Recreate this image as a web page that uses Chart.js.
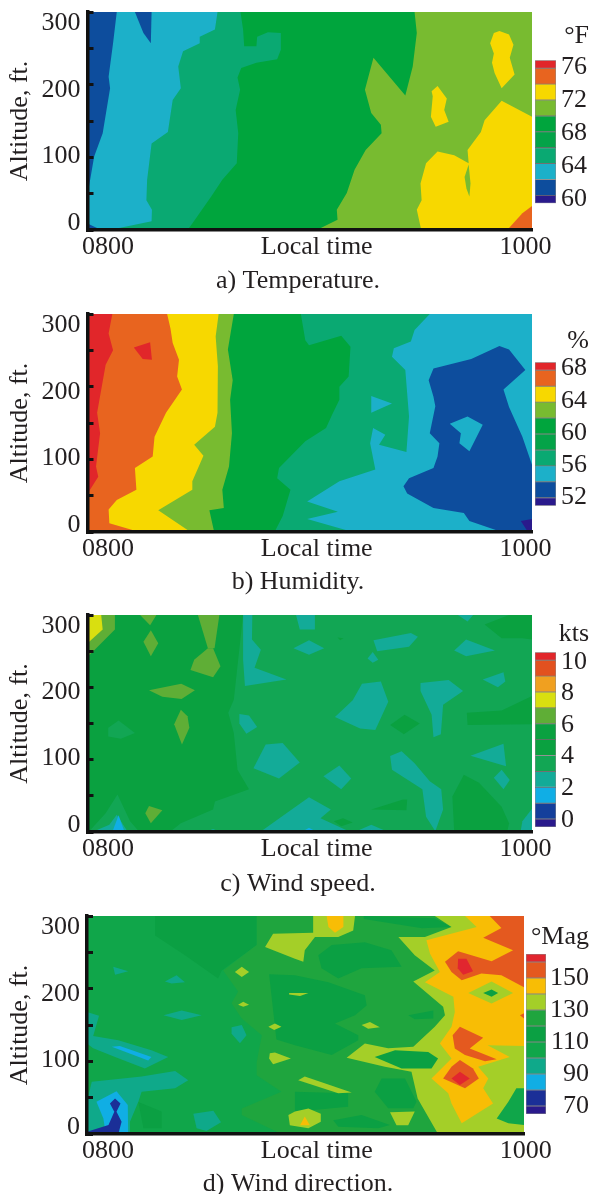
<!DOCTYPE html>
<html>
<head>
<meta charset="utf-8">
<style>
  html, body { margin: 0; background: #fff; }
  body { position: relative; width: 591px; height: 1194px; overflow: hidden; }
  canvas { position: absolute; filter: blur(0.4px); }
</style>
<script src="https://cdn.jsdelivr.net/npm/chart.js@4/dist/chart.umd.min.js"></script>
</head>
<body>
<script>
// axis labels
const altitudeTicks = [0, 100, 200, 300];
const timeTicks = [0, 60, 120];
const timeLabels = ["0800", "Local time", "1000"];

// colour bar levels, lowest first (each cell runs from one level to the next)
const tempLevels = [59, 60, 62, 64, 66, 68, 70, 72, 74, 76, 77];
const humidLevels = [51, 52, 54, 56, 58, 60, 62, 64, 66, 68, 69];
const speedLevels = [-0.5, 0, 1, 2, 3, 4, 5, 6, 7, 8, 9, 10, 10.5];
const dirLevels = [65, 70, 80, 90, 100, 110, 120, 130, 140, 150, 160, 165];

const tempLabels = [60, 64, 68, 72, 76];
const humidLabels = [52, 56, 60, 64, 68];
const speedLabels = [0, 2, 4, 6, 8, 10];
const dirLabels = [70, 90, 110, 130, 150];

// contour regions, painted back to front: [band level, [[minutes after 0800, feet], ...]]
const tempRegions = [
  [70, [[0,0],[120,0],[120,300],[0,300]]],
  [68, [[0,300],[88.3,300],[88.9,271],[87.8,225],[85.8,185],[77.2,237],[74.9,193],[76.6,161],[79.2,145],[79.4,133],[75.1,110],[72.1,83],[70,51],[67.3,28],[67.5,14],[61.9,0],[0,0]]],
  [64, [[0,300],[41.3,300],[42,276],[42.3,253],[45.6,253],[45.8,266],[48.7,272],[52.2,271],[52.2,248],[51.2,235],[45.6,230],[41.5,223],[40.5,210],[41.2,193],[40,165],[40.7,133],[40.3,92],[36.4,69],[33.4,46],[28.3,9],[27,0],[0,0]]],
  [62, [[0,300],[35.1,300],[34.4,276],[30.3,266],[30.3,257],[25.8,246],[24.5,225],[25.2,195],[23,179],[21.7,135],[17.3,119],[16.1,69],[15.9,41],[17.4,28],[17.3,12],[7.9,2],[5.9,0],[0,0]]],
  [60, [[0,300],[7.9,300],[6.9,257],[5.7,211],[6.1,195],[4.1,133],[1.8,101],[0.4,60],[0,41]]],
  [60, [[0,9],[3.7,0],[0,0]]],
  [60, [[12.8,300],[15.1,271],[17.1,257],[17.3,300]]],
  [72, [[111.2,274],[113.8,269],[115,255],[114,237],[115.3,214],[111.8,195],[109.9,216],[109.2,230],[109.7,243],[108.7,257],[109.7,271]]],
  [72, [[94.5,198],[97,181],[96.3,165],[97.5,149],[94,142],[92.7,156],[93.2,184],[92.9,191]]],
  [72, [[120,156],[111.8,178],[107.2,151],[106.2,135],[102.6,110],[102.9,92],[99,103],[94.5,108],[91.4,92],[89.9,64],[90.2,41],[88.9,28],[90.1,0],[120,0]]],
  [70, [[102.9,90],[101.8,73],[102.3,57],[103.1,46],[103.4,64]]],
  [74, [[120,33],[117.4,23],[113.3,0],[120,0]]],
];

const humidRegions = [
  [54, [[0,0],[120,0],[120,300],[0,300]]],
  [56, [[0,300],[92.4,300],[88.3,278],[87.3,262],[82.7,253],[82.2,241],[85.8,223],[86.8,159],[86.1,110],[78.7,120],[80.4,134],[77.1,143],[76.3,122],[77.7,86],[68,70],[59.3,42],[67.6,28],[59.3,18],[71.6,0],[0,0]]],
  [60, [[0,300],[57.6,300],[58.8,264],[59.8,257],[68.5,270],[71,255],[70.5,214],[68,200],[68,182],[66,161],[64.4,143],[58.8,125],[51.7,88],[51.2,74],[54.8,58],[52.7,22],[50.5,0],[0,0]]],
  [62, [[0,300],[39.5,300],[37.9,251],[39.2,209],[38.5,182],[39,136],[38.2,90],[36.4,58],[36.8,33],[32.9,30],[34.2,0],[0,0]]],
  [64, [[0,300],[35.4,300],[34.6,269],[35.2,228],[35.1,164],[34.4,145],[28.8,120],[31.3,105],[28.3,70],[28.3,58],[19.1,30],[27.8,0],[0,0]]],
  [66, [[0,300],[21.5,300],[22.4,280],[23,260],[24.7,237],[24.2,214],[25.5,196],[21.2,164],[18.1,131],[17.6,104],[12.8,88],[13.2,58],[7.9,44],[5.7,31],[5.9,12],[14,0],[0,0]]],
  [68, [[0,300],[6.7,300],[5.7,273],[6.9,250],[4.9,230],[2.6,164],[3.4,136],[2.3,90],[2.9,76],[0.3,55],[0,54]]],
  [68, [[12.5,254],[16.9,261],[17.4,237],[14.9,238]]],
  [54, [[76.6,187],[82.2,177],[76.6,164]]],
  [52, [[111.2,256],[113.8,251],[118.2,223],[112.3,196],[113.8,172],[117.4,131],[120,92.5],[120,0],[111.8,0],[103.1,15],[101.6,26],[93.4,33],[86.3,53],[85.3,63],[86.8,74],[93.4,88],[94.5,104],[95,122],[92.4,136],[93.9,173],[93.4,186],[92.1,209],[93.4,225],[103.6,238]]],
  [54, [[102.6,159],[106.7,147.5],[103.1,111],[100.4,122],[100.8,136],[97.8,149]]],
  [51, [[120,18],[117,15],[118.9,0],[120,0]]],
];

const speedRegions = [
  [3, [[0,0],[120,0],[120,300],[0,300]]],
  [4, [[0,300],[42,300],[39.5,183],[38,165],[39.5,137],[40.5,86],[43.6,59],[34.4,42],[33.9,31],[25.2,12],[22.2,0],[0,0]]],
  [3, [[0.3,0],[4.9,26],[8.1,52],[11.5,15],[14,0]]],
  [2, [[1.3,0],[5.9,10],[7.9,24],[10.5,3],[10.5,0]]],
  [1, [[6.7,0],[8.4,23],[10,0]]],
  [6, [[0,300],[7.4,300],[7.4,280],[3.9,262],[0,242]]],
  [7, [[0,300],[3.7,300],[4.1,280],[0,261]]],
  [6, [[14.2,300],[18.6,300],[16.9,286]]],
  [6, [[17.1,279],[19.1,261],[17.1,243],[15.1,263]]],
  [6, [[29.8,300],[35.6,300],[34.3,254],[32.5,254]]],
  [6, [[32.5,254],[33.9,254],[35.9,229],[33.9,214],[27.8,224],[28.8,238]]],
  [6, [[16.6,196],[25.3,205],[29,196],[25.4,184],[20.2,187]]],
  [6, [[25.2,169],[27,160],[27.5,144],[25.5,121],[23.4,149]]],
  [6, [[16.6,36],[20.2,30],[17.1,12],[15.6,26]]],
  [3, [[8.4,154],[12.8,137],[9,129],[5.6,132],[5.6,144]]],
  [4, [[107.2,287],[113.8,300],[120,300],[120,266],[117.4,268],[111.8,268]]],
  [4, [[102.4,165],[111.8,168],[120,188],[120,149],[102.6,148]]],
  [4, [[85.6,162],[89.7,150],[85.4,135],[81.7,148]]],
  [4, [[101.6,79],[105.7,68],[111.8,35],[113.8,12],[113.3,0],[99,0],[98.5,49]]],
  [4, [[76.6,31],[85.2,45],[86.3,45],[86.1,30]]],
  [4, [[66.5,15],[69,19],[71.6,13],[68.5,8]]],
  [4, [[67.5,269],[69.1,268],[68.2,265]]],
  [2, [[42,300],[44.5,300],[44.4,266],[46.8,252],[45.1,227],[53.7,211],[42.5,202],[42,238]]],
  [2, [[56.3,300],[61.4,300],[61.4,280],[57.3,280]]],
  [2, [[59.8,265],[63.9,254],[59.8,245],[55.6,254]]],
  [2, [[77.2,265],[87.3,275],[89.2,270],[86.8,256],[78.2,250]]],
  [2, [[77,249],[78.5,238],[77,234],[75.6,240]]],
  [2, [[102.2,266],[110,251],[102.2,243],[99,251]]],
  [2, [[100,300],[104.1,300],[102.6,291]]],
  [2, [[112.3,221],[112.8,208],[110.8,200],[106.7,211]]],
  [2, [[89.9,206],[97.5,210],[101.4,195],[96,176],[95.4,135],[93.4,131],[92.9,162],[89.9,195]]],
  [2, [[74.1,205],[79.2,208],[81.2,180],[77.7,141],[73.6,143],[66.8,159],[71.6,182]]],
  [2, [[41,163],[43.6,161],[45.8,145],[42.9,136],[41,150]]],
  [2, [[48.1,121],[52.7,123],[57.3,96],[51.7,74],[44.8,88]]],
  [2, [[68,92],[71.2,74],[68.5,59],[63.7,77]]],
  [2, [[84.8,111.5],[88.3,95],[92.4,70],[95.5,59],[96,31],[93.9,1],[91.4,21],[90.4,59],[82.2,86],[81.7,105]]],
  [2, [[112.3,122],[113,91],[103.4,105.5]]],
  [2, [[111.8,86],[114,72],[112.3,59],[109.7,75]]],
  [2, [[46.6,0],[53.7,26],[59.8,48],[65.7,31],[62.9,19],[71,0]]],
  [2, [[72.1,0],[76.6,10],[81.2,0]]],
  [2, [[120,32],[117.4,15],[116.9,0],[120,0]]],
  [2, [[31.9,0],[33.9,4],[35.9,0]]],
  [1, [[57.8,0],[59.8,6],[61.9,0]]],
  [1, [[75.1,0],[76.6,3],[78.7,0]]],
];

const dirRegions = [
  [100, [[0,0],[120,0],[120,300],[0,300]]],
  [110, [[18.7,300],[46.6,300],[46.6,260],[37,225],[36,214],[26.9,246],[18.7,273]]],
  [110, [[14.1,44],[20.5,31],[20.5,8],[15.5,8]]],
  [90, [[7.2,230],[11.3,224],[7.7,219]]],
  [90, [[21.4,210],[24.6,218.5],[26.9,209],[23.2,207]]],
  [90, [[21,163.5],[26,170],[31.5,163.5],[26,157]]],
  [90, [[39.7,147],[42.5,150],[43.8,136],[42,125],[39.7,138]]],
  [90, [[29.2,28],[34.7,32],[36.8,16],[32.8,4],[30.1,8]]],
  [90, [[0,168],[3.3,162.6],[1.7,135],[8.6,129],[17.7,115.4],[22.3,106],[15.9,90],[7.7,106],[1.7,118],[0,124.6]]],
  [90, [[1.3,72],[15,79],[24.2,86.6],[27.8,74],[24.2,62.8],[15,58],[14.1,44.4],[11.8,17],[11.8,0],[0,0],[0,44]]],
  [80, [[6.8,120],[9,121],[17.7,106],[16.8,101]]],
  [80, [[2.6,44.4],[8.1,59],[11.2,40],[11.3,0],[4.9,8],[4.5,21.5]]],
  [70, [[0,3],[5.9,12.4],[7.5,30.7],[6.3,42],[7.7,49],[9.2,42],[8.1,30.7],[9.5,17],[8.6,0],[0,0]]],
  [120, [[46.6,300],[46.6,260],[37.4,225],[41.5,196],[39.7,180],[42.5,159],[48,136],[46.6,99],[46.6,81],[53.4,58],[42.5,35],[42.5,26],[53.4,0],[120,0],[120,300]]],
  [110, [[63.5,246],[67.2,260],[76.3,264],[83.6,253],[86.4,230],[75.4,228],[69,214],[64.4,228]]],
  [110, [[50,220],[57.1,218.5],[66.3,209],[76.3,191],[76.8,177],[73.6,163.5],[68.1,152],[74.5,136],[74.5,129],[67.2,108.6],[57.1,122.3],[52,130]]],
  [110, [[57.1,58],[71.7,56],[71.7,37.6],[57.1,30.7]]],
  [110, [[80.9,76.5],[87.3,76.5],[90.5,44.4],[89.6,35.3],[82.7,35.3],[79,58]]],
  [110, [[67.6,19],[75.4,26],[83.2,12.4],[80,8],[69,10]]],
  [110, [[88.2,163.5],[95.1,170],[95.1,159],[90,158]]],
  [110, [[76,300],[95.5,297],[100.1,285],[92,283],[76,296]]],
  [130, [[95.5,300],[100.1,285],[92.8,271],[85.5,271],[90,246],[95.5,225],[89.6,210],[97.8,175],[98.3,163.5],[95.5,147.5],[89.6,120],[82.7,118],[76.3,124.6],[71.3,105],[81.8,92.5],[89.1,85.7],[90.8,49],[96.4,0],[120,0],[120,300]]],
  [110, [[79,106],[84.6,115.4],[93.7,113],[96.4,104],[94.6,90],[86.4,90]]],
  [100, [[117.9,62.8],[120,62.8],[120,12.4],[115.7,14.7],[112.5,21.5],[115.7,44.4]]],
  [130, [[48.9,257.4],[51.1,275.7],[62.1,277],[62.1,300],[73.6,300],[73.1,280],[69,271],[62.6,271],[59.8,253],[59.4,237],[57.1,241]]],
  [140, [[65.8,300],[70.4,300],[70.4,285],[68.1,277],[66.3,285]]],
  [130, [[40.6,223],[42.5,230],[44.5,223],[42.5,216]]],
  [130, [[41.5,178],[42.9,182],[44.5,178],[42.9,175]]],
  [130, [[49.8,147.5],[51.6,152],[53.4,147.5],[51.4,143]]],
  [130, [[50.2,111],[51.6,112],[56,104],[51.1,96],[50,104]]],
  [130, [[55.5,194],[60.8,194],[58.5,190],[55.5,192]]],
  [130, [[75.4,150],[77.7,154],[80.4,147],[77.2,145]]],
  [130, [[58,74],[59.8,79],[72.7,57],[69,56]]],
  [130, [[55.3,26],[57.1,31],[60.8,35],[64.2,28],[64.2,17],[60.8,8],[55.7,12]]],
  [140, [[59.8,24],[61.2,12],[58.5,12]]],
  [130, [[83.2,30],[90,31],[88.2,12],[85,12]]],
  [140, [[103.8,300],[107,285],[93.2,266.6],[94.2,248],[96.9,223],[92.8,209],[100.6,189],[101,168],[100.1,147.5],[96.9,124.6],[100.1,104],[94.6,76.5],[99.2,56],[100.1,42],[102.9,14.7],[111.5,42],[108.8,63],[110.2,76.5],[107.4,92.5],[116.1,106],[110,122],[120,121],[120,300]]],
  [150, [[101.9,251.5],[111.1,237.7],[117,253],[108.8,270],[113.8,283.5],[110.6,300],[120,300],[120,202],[113.8,218.5],[108.3,221],[102.9,211.6],[100.1,223],[98.3,237]]],
  [160, [[101.9,241],[104.2,241],[106,224],[103.3,219],[101.8,228]]],
  [130, [[104.7,194],[111.1,210],[117,194],[111.1,179.5]]],
  [110, [[108.8,194],[111.1,199],[112.9,194],[111.1,189]]],
  [150, [[102.4,147.5],[108.8,132.4],[105.1,117.7],[112.5,103],[109.3,100],[103.8,108.6],[101,117.7],[100.4,136]]],
  [150, [[102.4,101.7],[106,90.2],[107.6,76.5],[103.8,62.8],[97.8,76.5],[100.1,92.5]]],
  [160, [[102.4,85.7],[105.1,76.5],[102.4,67.3],[100.1,76.5]]],
  [150, [[118.9,163.5],[120,166],[120,159]]],
];

const tempColors = ["#2a1a8c", "#0d4d9d", "#1cb0c9", "#0aa972", "#04a348", "#00a53d", "#78bb30", "#f7d800", "#e8641f", "#e1262a"];
const humidColors = ["#2a1a8c", "#0d4d9d", "#1cb0c9", "#0aa972", "#04a348", "#00a53d", "#78bb30", "#f7d800", "#e8641f", "#e1262a"];
const speedColors = ["#2a1a8c", "#143f9b", "#10aee5", "#13ab98", "#12a654", "#0aa140", "#0aa140", "#5fae36", "#d9df10", "#f0a020", "#e2511f", "#e1262a"];
const dirColors = ["#2a1a8c", "#1b2f97", "#10aee4", "#0fa98a", "#10a64a", "#0ba043", "#1fa53e", "#a4cf28", "#f8bd05", "#e4591f", "#e1262f"];

const FONT = "'Liberation Serif', serif";
const INK = "#231f20";
const LINE_H = 31.2; // 26px text at the default 1.2 line height

Chart.defaults.font.family = FONT;
Chart.defaults.font.size = 26;
Chart.defaults.color = INK;
Chart.defaults.animation = false;
Chart.defaults.responsive = false;
Chart.defaults.devicePixelRatio = 1;

function addCanvas(left, top, width, height) {
  const c = document.createElement("canvas");
  c.width = width;
  c.height = height;
  c.style.left = left + "px";
  c.style.top = top + "px";
  c.style.width = width + "px";
  c.style.height = height + "px";
  document.body.appendChild(c);
  return c;
}

// axis labels must not push the plot area around
function noOverhang(s) {
  s.paddingTop = s.paddingBottom = s.paddingLeft = s.paddingRight = 0;
}

function drawContour(p) {
  const canvasLeft = 5;
  const canvasTop = p.plotTop - 12;
  const height = Math.round(p.captionY + LINE_H / 2 - canvasTop);
  const axisH = height - LINE_H - (p.plotBottom - canvasTop);
  const ctx = addCanvas(canvasLeft, canvasTop, 586, height);

  const datasets = p.regions.map(([level, pts], i) => ({
    data: pts.map(([x, y]) => ({ x, y })),
    showLine: true,
    fill: "shape",
    backgroundColor: p.colors[p.levels.indexOf(level)],
    borderWidth: 0,
    pointRadius: 0,
    order: p.regions.length - i,
  }));

  new Chart(ctx, {
    type: "scatter",
    data: { datasets },
    options: {
      layout: { padding: { top: 12 } },
      events: [],
      plugins: {
        legend: { display: false },
        tooltip: { enabled: false },
        title: {
          display: true,
          text: p.caption,
          position: "bottom",
          padding: 0,
          font: { size: 26, weight: "normal" },
          color: INK,
        },
      },
      scales: {
        x: {
          type: "linear", min: 0, max: 120, weight: 0,
          ticks: { display: false },
          grid: { display: false, drawTicks: false },
          border: { display: true, color: "#111", width: 3.5, z: 2 },
          afterFit: (s) => { s.height = 0; noOverhang(s); },
        },
        xl: {
          type: "linear", axis: "x", position: "bottom", weight: 1,
          min: p.timeMin, max: p.timeMax,
          afterBuildTicks: (s) => { s.ticks = timeTicks.map((v) => ({ value: v })); },
          ticks: {
            autoSkip: false, maxRotation: 0, padding: 2,
            callback: (v) => timeLabels[timeTicks.indexOf(v)],
          },
          grid: { display: false, drawTicks: false },
          border: { display: false },
          afterFit: (s) => { s.height = axisH; noOverhang(s); },
        },
        y: {
          type: "linear", min: 0, max: 300, weight: 0,
          ticks: { display: false, stepSize: 50 },
          grid: { drawOnChartArea: false, drawTicks: true, tickLength: -6, tickWidth: 3, tickColor: "#111", z: 2 },
          border: { display: true, color: "#111", width: 3.5, z: 2 },
          afterFit: (s) => { s.width = 0; noOverhang(s); },
        },
        yl: {
          type: "linear", axis: "y", position: "left", weight: 1,
          min: -11, max: 317,
          afterBuildTicks: (s) => { s.ticks = altitudeTicks.map((v) => ({ value: v })); },
          ticks: { autoSkip: false, padding: 7 },
          grid: { display: false, drawTicks: false },
          border: { display: false },
          title: { display: true, text: "Altitude, ft.", padding: 0, font: { size: 26 }, color: INK },
          afterFit: (s) => { s.width = p.plotLeft - canvasLeft; noOverhang(s); },
        },
        yr: {
          type: "linear", axis: "y", position: "right", min: 0, max: 1,
          ticks: { display: false },
          grid: { display: false, drawTicks: false },
          border: { display: false },
          afterFit: (s) => { s.width = 586 + canvasLeft - p.plotRight; noOverhang(s); },
        },
      },
    },
  });
}

function drawColorBar(b) {
  const top = Math.floor(b.unitY - LINE_H / 2);
  const width = 589 - b.left;
  const height = Math.ceil(b.bottom + 12 - top);
  const ctx = addCanvas(b.left, top, width, height);

  const datasets = b.colors.map((color, i) => ({
    data: [[b.levels[i], b.levels[i + 1]]],
    backgroundColor: color,
    borderColor: "rgba(50,50,50,0.55)",
    borderWidth: 0.8,
    borderSkipped: false,
    grouped: false,
    barPercentage: 1,
    categoryPercentage: 1,
  }));

  new Chart(ctx, {
    type: "bar",
    data: { labels: [""], datasets },
    options: {
      layout: { padding: { bottom: height - (b.bottom - top) } },
      events: [],
      plugins: {
        legend: { display: false },
        tooltip: { enabled: false },
        title: {
          display: true,
          text: b.unit,
          align: "end",
          position: "top",
          padding: { top: 0, bottom: b.top - top - LINE_H },
          font: { size: 26, weight: "normal" },
          color: INK,
        },
      },
      scales: {
        x: { display: false },
        y: { display: false, min: b.levels[0], max: b.levels[b.levels.length - 1] },
        yl: {
          type: "linear", axis: "y", position: "right",
          min: b.labelMin, max: b.labelMax,
          afterBuildTicks: (s) => { s.ticks = b.labels.map((v) => ({ value: v })); },
          ticks: { autoSkip: false, padding: 5, crossAlign: b.crossAlign },
          grid: { display: false, drawTicks: false },
          border: { display: false },
          afterFit: (s) => { s.width = width - b.width; noOverhang(s); },
        },
      },
    },
  });
}

drawContour({ regions: tempRegions, levels: tempLevels, colors: tempColors, caption: "a) Temperature.", plotLeft: 87.5, plotRight: 532, plotTop: 12, plotBottom: 230, captionY: 281, timeMin: -5.9, timeMax: 121.9 });
drawContour({ regions: humidRegions, levels: humidLevels, colors: humidColors, caption: "b) Humidity.", plotLeft: 87.5, plotRight: 532, plotTop: 314, plotBottom: 532, captionY: 582, timeMin: -5.9, timeMax: 121.9 });
drawContour({ regions: speedRegions, levels: speedLevels, colors: speedColors, caption: "c) Wind speed.", plotLeft: 87.5, plotRight: 532, plotTop: 615, plotBottom: 832, captionY: 884, timeMin: -5.9, timeMax: 121.9 });
drawContour({ regions: dirRegions, levels: dirLevels, colors: dirColors, caption: "d) Wind direction.", plotLeft: 87, plotRight: 524, plotTop: 916, plotBottom: 1134, captionY: 1184, timeMin: -6, timeMax: 119.5 });

drawColorBar({ levels: tempLevels, colors: tempColors, labels: tempLabels, unit: "°F", left: 535, width: 21, top: 60.3, bottom: 203.3, unitY: 37, labelMin: 59.5, labelMax: 76.8, crossAlign: "near" });
drawColorBar({ levels: humidLevels, colors: humidColors, labels: humidLabels, unit: "%", left: 535, width: 21, top: 362.3, bottom: 505.7, unitY: 342, labelMin: 51, labelMax: 68.75, crossAlign: "near" });
drawColorBar({ levels: speedLevels, colors: speedColors, labels: speedLabels, unit: "kts", left: 535, width: 21, top: 652.3, bottom: 827, unitY: 635, labelMin: -0.45, labelMax: 10.6, crossAlign: "near" });
drawColorBar({ levels: dirLevels, colors: dirColors, labels: dirLabels, unit: "°Mag", left: 526, width: 20, top: 954, bottom: 1114, unitY: 938, labelMin: 65, labelMax: 165, crossAlign: "far" });
</script>
</body>
</html>
